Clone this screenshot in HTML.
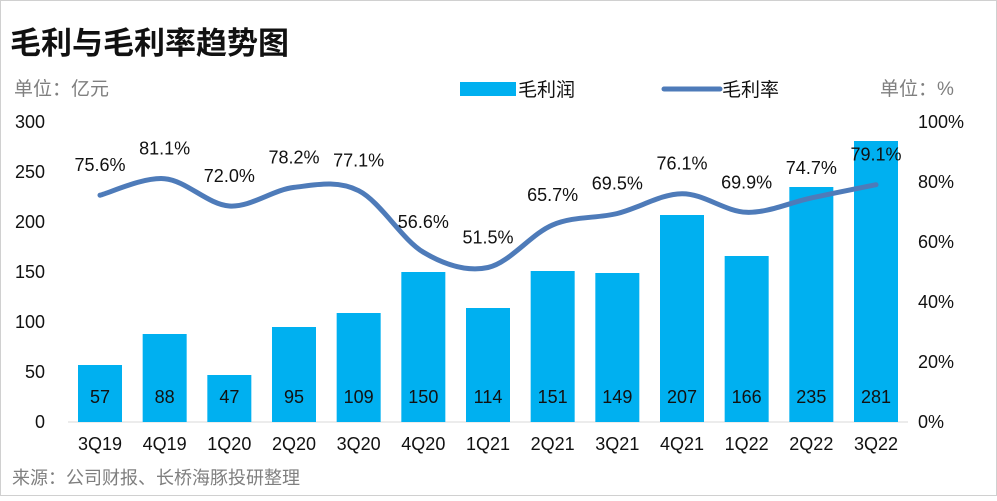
<!DOCTYPE html>
<html><head><meta charset="utf-8">
<style>
body{margin:0;background:#fff;}
#wrap{position:relative;width:997px;height:496px;font-family:"Liberation Sans","Noto Sans CJK SC",sans-serif;}
svg text{font-family:"Liberation Sans","Noto Sans CJK SC",sans-serif;}
</style></head>
<body>
<div id="wrap">
<svg id="chart" width="997" height="496">
<rect x="0.5" y="0.5" width="996" height="495" fill="#fff" stroke="#d0d0d0"/>
<text x="10" y="54" font-size="31" font-weight="bold" fill="#111">毛利与毛利率趋势图</text>
<text x="14" y="95" font-size="19" fill="#7f7f7f">单位：亿元</text>
<text x="880" y="95" font-size="19" fill="#7f7f7f">单位：%</text>
<rect x="460" y="82" width="56" height="14" fill="#00b0f0"/>
<text x="518" y="96" font-size="19" fill="#111">毛利润</text>
<line x1="664" y1="89" x2="720" y2="89" stroke="#4e7bb9" stroke-width="5" stroke-linecap="round"/>
<text x="722" y="96" font-size="19" fill="#111">毛利率</text>
<text x="12" y="484" font-size="18" fill="#7f7f7f">来源：公司财报、长桥海豚投研整理</text>
<g id="g"></g>
</svg>
</div>
<script>
const categories=["3Q19","4Q19","1Q20","2Q20","3Q20","4Q20","1Q21","2Q21","3Q21","4Q21","1Q22","2Q22","3Q22"];
const grossProfit=[57,88,47,95,109,150,114,151,149,207,166,235,281];
const grossMargin=[75.6,81.1,72.0,78.2,77.1,56.6,51.5,65.7,69.5,76.1,69.9,74.7,79.1];
const leftTicks=[0,50,100,150,200,250,300];
const rightTicks=[0,20,40,60,80,100];
const NS="http://www.w3.org/2000/svg";
const g=document.getElementById('g');
const plotTop=122,plotBot=422,x0=100,x1=876;
const yL=v=>plotBot-(v/300)*(plotBot-plotTop);
const yR=v=>plotBot-(v/100)*(plotBot-plotTop);
const xC=i=>x0+i*(x1-x0)/(categories.length-1);
function mk(t,a){const e=document.createElementNS(NS,t);for(const k in a)e.setAttribute(k,a[k]);g.appendChild(e);return e;}
leftTicks.forEach(v=>{const e=mk('text',{x:45,y:yL(v)+6,'font-size':18,'text-anchor':'end',fill:'#111'});e.textContent=v;

});
rightTicks.forEach(v=>{const e=mk('text',{x:918,y:yR(v)+6,'font-size':18,fill:'#111'});e.textContent=v+'%';

});
const ax=mk('line',{x1:68,y1:plotBot,x2:908,y2:plotBot,stroke:'#d9d9d9'});


categories.forEach((c,i)=>{
 const x=xC(i),bw=44;
 const r=mk('rect',{x:x-bw/2,y:yL(grossProfit[i]),width:bw,height:plotBot-yL(grossProfit[i]),fill:'#00b0f0'});
 
 
 const t=mk('text',{x:x,y:403,'font-size':18,'text-anchor':'middle',fill:'#111'});t.textContent=grossProfit[i];
 
 
 const l=mk('text',{x:x,y:450,'font-size':18,'text-anchor':'middle',fill:'#111'});l.textContent=c;
 
 
});
const pts=grossMargin.map((v,i)=>[xC(i),yR(v)]);
let d='M'+pts[0][0]+','+pts[0][1];
for(let i=0;i<pts.length-1;i++){
 const p0=pts[Math.max(0,i-1)],p1=pts[i],p2=pts[i+1],p3=pts[Math.min(pts.length-1,i+2)];
 const c1=[p1[0]+(p2[0]-p0[0])/6,p1[1]+(p2[1]-p0[1])/6],c2=[p2[0]-(p3[0]-p1[0])/6,p2[1]-(p3[1]-p1[1])/6];
 d+=` C${c1[0]},${c1[1]} ${c2[0]},${c2[1]} ${p2[0]},${p2[1]}`;
}
const ln=mk('path',{d:d,fill:'none',stroke:'#4e7bb9','stroke-width':5,'stroke-linecap':'round'});


grossMargin.forEach((v,i)=>{
 const t=mk('text',{x:xC(i),y:yR(v)-24,'font-size':18,'text-anchor':'middle',fill:'#111'});t.textContent=v.toFixed(1)+'%';
 
 
});
</script>
</body></html>
